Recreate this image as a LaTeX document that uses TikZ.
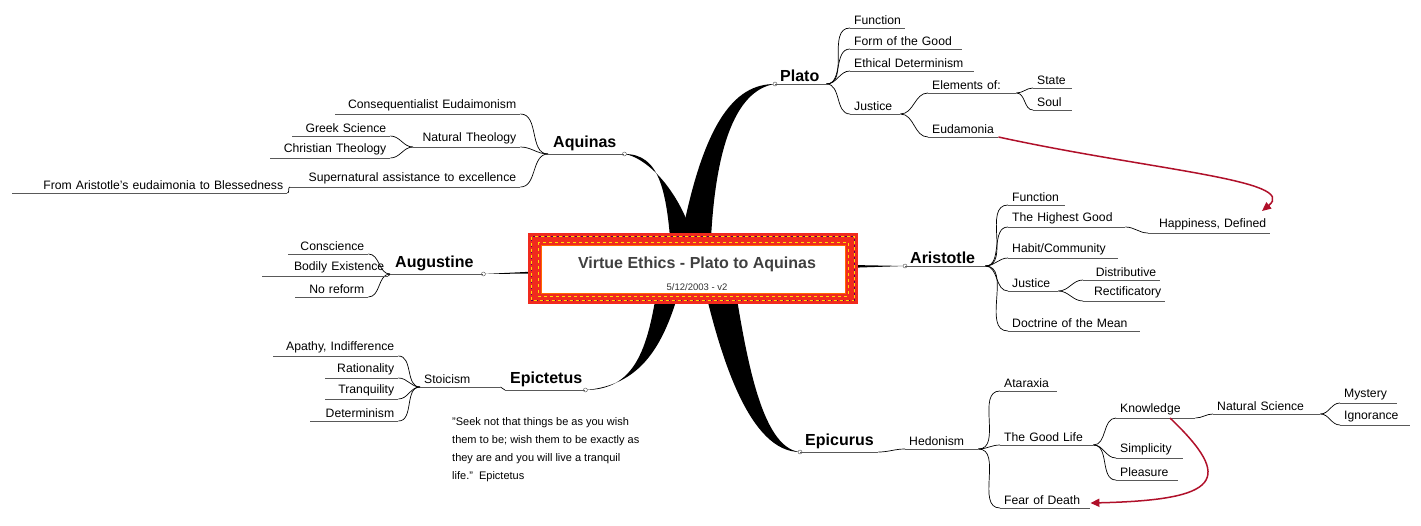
\documentclass[tikz,border=0pt]{standalone}
\usepackage{fontspec}
\setmainfont{Liberation Sans}
\usetikzlibrary{arrows.meta}
\definecolor{arr}{HTML}{B0102A}
\definecolor{frame}{HTML}{F02A1E}
\tikzset{
  itm/.style={anchor=south west,inner xsep=4pt,inner ysep=3pt,font=\fontsize{12.2}{14}\selectfont,align=left},
  mainn/.style={anchor=south west,inner xsep=5pt,inner ysep=2.5pt,font=\bfseries\fontsize{16}{18}\selectfont,align=left},
  ul/.style={draw=black!65,line width=0.9pt},
  con/.style={draw=black,line width=0.7pt},
  thick/.style={fill=black,draw=none},
  dot/.style={circle,draw=black!70,fill=white,inner sep=0pt,minimum size=4pt,line width=0.4pt},
  red/.style={draw=arr,line width=1.5pt,-{Triangle[length=9pt,width=8pt]}}
}
\newcommand\itm[5]{\node[itm,text width=#4pt-8pt] (#1) at (#2,#3) {#5};}
\newcommand\mn[5]{\node[mainn,text width=#4pt-10pt] (#1) at (#2,#3) {#5};}
\begin{document}
\begin{tikzpicture}[x=1pt,y=-1pt]
\useasboundingbox (0,0) rectangle (1421,525);
% main nodes
\mn{plato}{775}{84}{51}{Plato}
\mn{aquinas}{548}{154}{76}{Aquinas}
\mn{aug}{390}{274}{93}{Augustine}
\mn{epict}{505}{390}{80}{Epictetus}
\mn{arist}{905}{266}{80}{Aristotle}
\mn{epic}{800}{452}{78}{Epicurus}
% thick tapered branches
\fill[thick] (676,268) .. controls (700,120) and (735,84) .. (plato.south west) .. controls (735,90) and (712,150) .. (710,268) -- cycle;
\fill[thick] (672,268) .. controls (668,190) and (660,154) .. (aquinas.south east) .. controls (650,158) and (690,200) .. (700,268) -- cycle;
\fill[thick] (692,264) -- (aug.south east) -- (692,272) -- cycle;
\fill[thick] (692,262) -- (arist.south west) -- (692,273) -- cycle;
\fill[thick] (660,268) .. controls (650,340) and (640,390) .. (epict.south east) .. controls (645,385) and (668,340) .. (685,268) -- cycle;
\fill[thick] (700,268) .. controls (720,360) and (750,452) .. (epic.south west) .. controls (760,448) and (745,350) .. (732,268) -- cycle;
\foreach \n/\a in {plato/south west,aquinas/south east,aug/south east,epict/south east,arist/south west,epic/south west}
  \node[dot] at (\n.\a) {};
% Plato
\itm{pf}{850}{28}{55}{Function}
\itm{pg}{850}{49}{112}{Form of the Good}
\itm{pe}{850}{71}{124}{Ethical Determinism}
\itm{pj}{850}{114}{50}{Justice}
\itm{pel}{928}{93}{88}{Elements of:}
\itm{ped}{928}{137}{70}{Eudamonia}
\itm{ps}{1033}{88}{39}{State}
\itm{pso}{1033}{110}{39}{Soul}
\foreach \c in {pf,pg,pe,pj} \draw[con] (plato.south east) to[out=0,in=180] (\c.south west);
\foreach \c in {pel,ped} \draw[con] (pj.south east) to[out=0,in=180] (\c.south west);
\foreach \c in {ps,pso} \draw[con] (pel.south east) to[out=0,in=180] (\c.south west);
% Aquinas
\itm{qc}{335}{114}{185}{\hfill Consequentialist Eudaimonism}
\itm{qn}{413}{147}{107}{\hfill Natural Theology}
\itm{qs}{290}{187}{230}{\hfill Supernatural assistance to excellence}
\itm{qg}{292}{136}{98}{\hfill Greek Science}
\itm{qch}{270}{158}{120}{\hfill Christian Theology}
\itm{qa}{12}{193}{275}{\hfill From Aristotle's eudaimonia to Blessedness}
\foreach \c in {qc,qn,qs} \draw[con] (aquinas.south west) to[out=180,in=0] (\c.south east);
\foreach \c in {qg,qch} \draw[con] (qn.south west) to[out=180,in=0] (\c.south east);
\draw[con] (qs.south west) to[out=180,in=0] (qa.south east);
% Augustine
\itm{ac}{288}{254}{80}{\hfill Conscience}
\itm{ab}{262}{276}{126}{\hfill Bodily Existence}
\itm{an}{295}{297}{73}{\hfill No reform}
\foreach \c in {ac,ab,an} \draw[con] (aug.south west) to[out=180,in=0] (\c.south east);
% Epictetus
\itm{es}{420}{387}{80}{Stoicism}
\itm{ea}{273}{356}{125}{\hfill Apathy, Indifference}
\itm{er}{325}{378}{73}{\hfill Rationality}
\itm{et}{325}{399}{73}{\hfill Tranquility}
\itm{ed}{310}{421}{88}{\hfill Determinism}
\draw[con] (epict.south west) to[out=180,in=0] (es.south east);
\foreach \c in {ea,er,et,ed} \draw[con] (es.south west) to[out=180,in=0] (\c.south east);
\node[anchor=north west,inner sep=0pt,font=\fontsize{11}{18}\selectfont,align=left] (quote) at (452,417)
 {"Seek not that things be as you wish\\them to be; wish them to be exactly as\\they are and you will live a tranquil\\life."\ \ Epictetus};
% Aristotle
\itm{rf}{1008}{205}{57}{Function}
\itm{rh}{1008}{227}{117}{The Highest Good}
\itm{rc}{1008}{258}{110}{Habit/Community}
\itm{rj}{1008}{291}{50}{Justice}
\itm{rd}{1008}{331}{132}{Doctrine of the Mean}
\itm{rhd}{1148}{233}{122}{\hfill Happiness, Defined}
\itm{rdi}{1083}{280}{77}{\hfill Distributive}
\itm{rre}{1083}{301}{82}{\hfill Rectificatory}
\foreach \c in {rf,rh,rc,rj,rd} \draw[con] (arist.south east) to[out=0,in=180] (\c.south west);
\draw[con] (rh.south east) to[out=0,in=180] (rhd.south west);
\foreach \c in {rdi,rre} \draw[con] (rj.south east) to[out=0,in=180] (\c.south west);
% Epicurus
\itm{uh}{905}{449}{73}{Hedonism}
\itm{ua}{1000}{391}{57}{Ataraxia}
\itm{ug}{1000}{445}{93}{The Good Life}
\itm{uf}{1000}{508}{90}{Fear of Death}
\itm{uk}{1116}{418}{79}{Knowledge}
\itm{us}{1116}{458}{67}{Simplicity}
\itm{up}{1116}{480}{62}{Pleasure}
\itm{un}{1213}{414}{107}{Natural Science}
\itm{um}{1340}{403}{57}{Mystery}
\itm{ui}{1340}{425}{70}{Ignorance}
\draw[con] (epic.south east) to[out=0,in=180] (uh.south west);
\foreach \c in {ua,ug,uf} \draw[con] (uh.south east) to[out=0,in=180] (\c.south west);
\foreach \c in {uk,us,up} \draw[con] (ug.south east) to[out=0,in=180] (\c.south west);
\draw[con] (uk.south east) to[out=0,in=180] (un.south west);
\foreach \c in {um,ui} \draw[con] (un.south east) to[out=0,in=180] (\c.south west);
% underlines
\foreach \n in {plato,aquinas,aug,epict,arist,epic,pf,pg,pe,pj,pel,ped,ps,pso,qc,qn,qs,qg,qch,qa,ac,ab,an,es,ea,er,et,ed,rf,rh,rc,rj,rd,rhd,rdi,rre,uh,ua,ug,uf,uk,us,up,un,um,ui}
  \draw[ul] (\n.south west) -- (\n.south east);
% red arrows
\coordinate (k1) at (1170,418);
\draw[red] (ped.south east) .. controls (1150,170) and (1300,180) .. (1262,211);
\draw[red] (k1) .. controls (1235,480) and (1220,500) .. (uf.south east |- 0,503);
% centre box
\fill[frame] (528,233) rectangle (858,304);
\draw[yellow!80!orange,line width=1.2pt,dash pattern=on 3pt off 3pt] (531.5,236.5) rectangle (854.5,300.5);
\draw[violet!70!black,line width=1.2pt,dash pattern=on 1.5pt off 4.5pt,dash phase=3pt] (531.5,236.5) rectangle (854.5,300.5);
\draw[yellow!80!orange,line width=1pt,dash pattern=on 3pt off 3pt] (538,242) rectangle (848,296);
\node[draw=orange!80!red,line width=0.8pt,fill=white,minimum width=304pt,minimum height=48pt,inner sep=0pt] (box) at (693,269) {};
\node[font=\bfseries\fontsize{16}{18}\selectfont,text=black!75] (title) at (697,264) {Virtue Ethics - Plato to Aquinas};
\node[font=\fontsize{9.5}{10}\selectfont,text=black!80] (date) at (697,287) {5/12/2003 - v2};
\end{tikzpicture}
\end{document}
